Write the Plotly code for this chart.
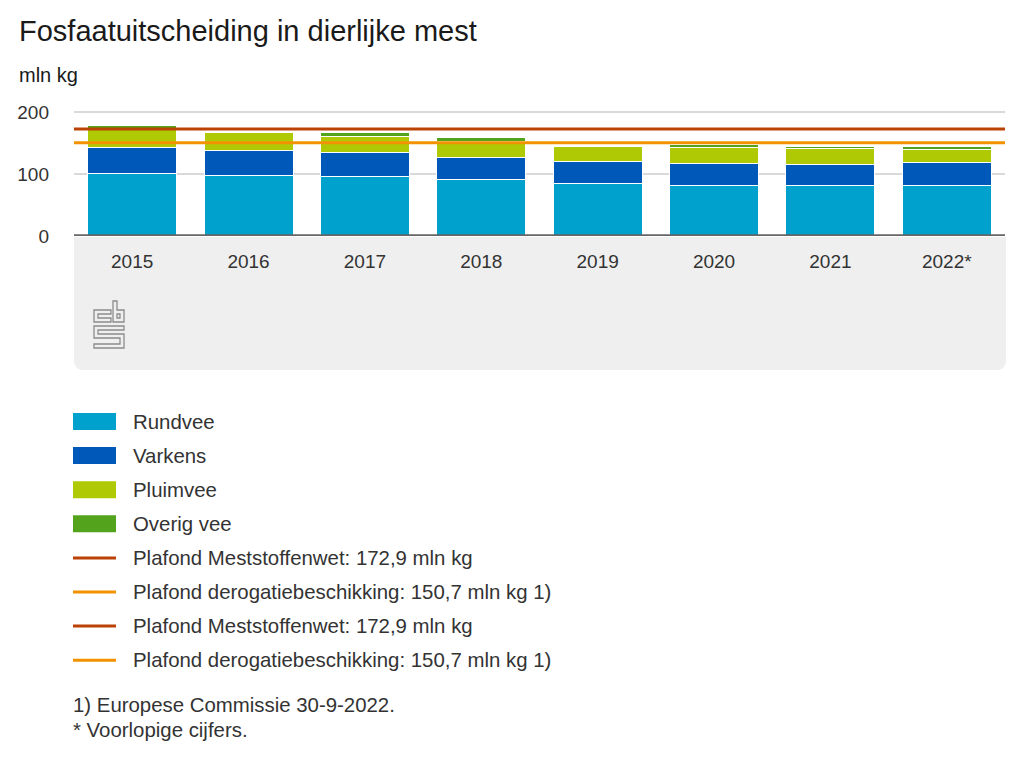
import plotly.graph_objects as go

# ---------------- data ----------------
years = ["2015", "2016", "2017", "2018", "2019", "2020", "2021", "2022*"]
rundvee = [101.0, 98.4, 95.6, 90.8, 85.0, 82.2, 81.7, 81.7]
varkens = [41.1, 39.2, 39.6, 35.2, 35.6, 35.6, 34.0, 37.3]
pluimvee = [31.0, 29.4, 25.3, 27.3, 23.7, 25.5, 25.3, 21.0]
overig_vee = [5.2, 0.0, 6.5, 5.0, 0.0, 4.2, 3.9, 4.9]

series_names = ["Rundvee", "Varkens", "Pluimvee", "Overig vee"]
series_values = [rundvee, varkens, pluimvee, overig_vee]
series_colors = ["#00a1cd", "#0058b8", "#afca05", "#53a31d"]

plafond_meststoffenwet = 172.9
plafond_derogatie = 150.7
plafond_names = ["Plafond Meststoffenwet: 172,9 mln kg",
                 "Plafond derogatiebeschikking: 150,7 mln kg 1)"]
plafond_values = [plafond_meststoffenwet, plafond_derogatie]
plafond_colors = ["#bb4205", "#f39200"]

title_text = "Fosfaatuitscheiding in dierlijke mest"
unit_text = "mln kg"
y_ticks = [0, 100, 200]
footnotes = ["1) Europese Commissie 30-9-2022.", "* Voorlopige cijfers."]

# ---------------- geometry helpers ----------------
FW, FH = 1024, 768
ML, MR, MT, MB = 74, 19, 109, 532
PW = FW - ML - MR
PH = FH - MT - MB
FONT = "Liberation Sans, Arial, sans-serif"
TXT = "#333333"


def px(x):
    return (x - ML) / PW


def py(y):
    return (FH - MB - y) / PH


fig = go.Figure()
for name, vals, col in zip(series_names, series_values, series_colors):
    fig.add_trace(go.Bar(x=years, y=vals, name=name, marker_color=col,
                         marker_line_color="white", marker_line_width=1,
                         showlegend=False))

shapes = []
# grey footer panel below the axis (rounded bottom corners)
x0, x1, y0, y1, r = 74, 1006, 237, 370, 10
path = (f"M {px(x0)},{py(y0)} L {px(x1)},{py(y0)} L {px(x1)},{py(y1 - r)} "
        f"Q {px(x1)},{py(y1)} {px(x1 - r)},{py(y1)} L {px(x0 + r)},{py(y1)} "
        f"Q {px(x0)},{py(y1)} {px(x0)},{py(y1 - r)} Z")
shapes.append(dict(type="path", xref="paper", yref="paper", path=path,
                   fillcolor="#efefef", line=dict(width=0), layer="below"))

# baseline
shapes.append(dict(type="line", xref="paper", yref="y", x0=0, x1=1, y0=0, y1=0,
                   line=dict(color="#666666", width=3.5), layer="above"))
# plafond lines
for v, c in zip(plafond_values, plafond_colors):
    shapes.append(dict(type="line", xref="paper", yref="y", x0=0, x1=1, y0=v, y1=v,
                       line=dict(color=c, width=3), layer="above"))


# CBS logo (outline)
def poly(points):
    s = "M " + " L ".join(f"{px(a)},{py(b)}" for a, b in points) + " Z"
    return dict(type="path", xref="paper", yref="paper", path=s,
                line=dict(color="#8c8c8c", width=1.3), fillcolor="rgba(0,0,0,0)")


shapes.append(poly([(111, 310), (94, 310), (94, 322), (111, 322), (111, 318),
                    (98, 318), (98, 314), (111, 314)]))
shapes.append(poly([(113, 301), (117, 301), (117, 310), (124, 310), (124, 322),
                    (113, 322)]))
shapes.append(poly([(117, 314), (120, 314), (120, 318), (117, 318)]))
shapes.append(poly([(94, 326), (124, 326), (124, 330), (98, 330), (98, 334),
                    (124, 334), (124, 348), (94, 348), (94, 344), (120, 344),
                    (120, 338), (94, 338)]))

annotations = []
annotations.append(dict(text=title_text, x=px(17), y=py(31), xref="paper", yref="paper",
                        xanchor="left", yanchor="middle", showarrow=False,
                        font=dict(size=29, color="#1a1a1a", family=FONT)))
annotations.append(dict(text=unit_text, x=px(17), y=py(75), xref="paper", yref="paper",
                        xanchor="left", yanchor="middle", showarrow=False,
                        font=dict(size=20, color="#1a1a1a", family=FONT)))

# manual legend
legend_rows = []
for name, col in zip(series_names, series_colors):
    legend_rows.append(("box", name, col))
for _ in range(2):
    for name, col in zip(plafond_names, plafond_colors):
        legend_rows.append(("line", name, col))

row_y0, row_dy = 421.5, 34.1
for i, (kind, name, col) in enumerate(legend_rows):
    yc = row_y0 + i * row_dy
    if kind == "box":
        shapes.append(dict(type="rect", xref="paper", yref="paper",
                           x0=px(73), x1=px(116), y0=py(yc - 8.5), y1=py(yc + 8.5),
                           fillcolor=col, line=dict(width=0)))
    else:
        shapes.append(dict(type="line", xref="paper", yref="paper",
                           x0=px(73), x1=px(116), y0=py(yc), y1=py(yc),
                           line=dict(color=col, width=3)))
    annotations.append(dict(text=name, x=px(131), y=py(yc), xref="paper", yref="paper",
                            xanchor="left", yanchor="middle", showarrow=False,
                            font=dict(size=20.4, color=TXT, family=FONT)))

for j, t in enumerate(footnotes):
    annotations.append(dict(text=t, x=px(71), y=py(705 + j * 25), xref="paper",
                            yref="paper", xanchor="left", yanchor="middle",
                            showarrow=False, font=dict(size=20.4, color=TXT, family=FONT)))

fig.update_layout(
    width=FW, height=FH,
    margin=dict(l=ML, r=MR, t=MT, b=MB, pad=0),
    paper_bgcolor="white", plot_bgcolor="white",
    barmode="stack", bargap=0.235,
    font=dict(family=FONT, color=TXT),
    shapes=shapes, annotations=annotations,
    showlegend=False,
    xaxis=dict(showgrid=False, zeroline=False, showline=False, ticks="",
               tickfont=dict(size=19, color=TXT), ticklabelstandoff=12,
               fixedrange=True),
    yaxis=dict(range=[0, 205], tickvals=y_ticks, showgrid=True,
               gridcolor="#d9d9d9", gridwidth=1.5, zeroline=False, showline=False,
               ticks="", tickfont=dict(size=19, color=TXT), ticklabelstandoff=24,
               fixedrange=True),
)

fig.write_html("out.html")
